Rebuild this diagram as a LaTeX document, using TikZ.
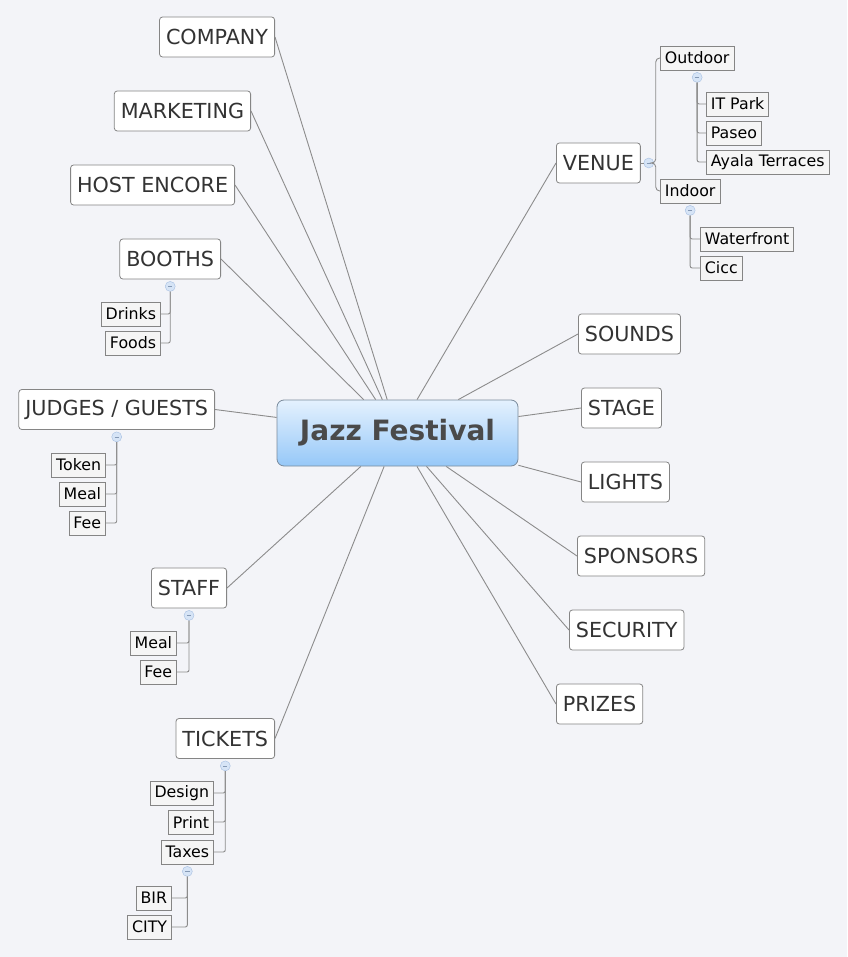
\documentclass[tikz,border=0pt]{standalone}
\usepackage{fontspec}
\setmainfont{DejaVu Sans}
\usepackage{xcolor}
\usetikzlibrary{shapes}
\usetikzlibrary{positioning}
\definecolor{bg}{HTML}{F3F4F8}
\definecolor{linkgray}{HTML}{8C8C8C}
\definecolor{boxline}{HTML}{858585}
\definecolor{subfill}{HTML}{F5F5F5}
\definecolor{txt}{HTML}{333333}
\definecolor{hubtop}{HTML}{E4F1FE}
\definecolor{hubbot}{HTML}{96C8F8}
\definecolor{hubline}{HTML}{7A8B9C}
\definecolor{hubtxt}{HTML}{4A4A4A}
\definecolor{foldfill}{HTML}{D6E4F6}
\definecolor{foldline}{HTML}{A6BFE2}

\begin{document}
\begin{tikzpicture}[x=1pt,y=-1pt,
	topic/.style={draw=boxline,line width=0.8pt,fill=white,rounded corners=3pt,minimum height=40pt,inner xsep=6.5pt,text=txt,font=\fontsize{20.7}{24}\selectfont},
	sub/.style={draw=boxline,line width=0.8pt,fill=subfill,minimum height=24pt,inner xsep=4.5pt,text=black,font=\fontsize{15.8}{18}\selectfont},
	hub/.style={draw=hubline,line width=0.8pt,top color=hubtop,bottom color=hubbot,rounded corners=7pt,minimum width=241pt,minimum height=66pt,text=hubtxt,font=\bfseries\fontsize{28}{32}\selectfont},
	fold/.style={circle,draw=foldline,fill=foldfill,minimum size=10pt,inner sep=0pt,
		path picture={\draw[foldline!80!black,line width=0.7pt] ([xshift=-2.2pt]path picture bounding box.center) -- ([xshift=2.2pt]path picture bounding box.center);}},
	link/.style={draw=linkgray,line width=0.9pt}]
		%Background
			\fill[bg] (0,0) rectangle (847,957);
		%Central topic
			\node[hub] (jazz) at (397.5,433) {Jazz Festival};
		%Main topics, left
			\foreach \id/\txt/\x/\y in {company/COMPANY/275/37, marketing/MARKETING/251/111, hostencore/HOST ENCORE/235/185, booths/BOOTHS/221/259, judges/{JUDGES / GUESTS}/215/409.5, staff/STAFF/227/588, tickets/TICKETS/275/738.5}
			{
				\node[topic,anchor=east] (\id) at (\x,\y) {\txt};
				\draw[link] (\id.east) -- (jazz);
			}
		%Main topics, right
			\foreach \id/\txt/\x/\y in {venue/VENUE/556/163, sounds/SOUNDS/578/334, stage/STAGE/581/408, lights/LIGHTS/581/482, sponsors/SPONSORS/577/556, security/SECURITY/569/630, prizes/PRIZES/556/704}
			{
				\node[topic,anchor=west] (\id) at (\x,\y) {\txt};
				\draw[link] (\id.west) -- (jazz);
			}
		%Venue branch
			\node[fold] (venue-f) at ([xshift=8pt]venue.east) {};
			\draw[link] (venue) -- (venue-f);
			\coordinate (venue-j) at ([xshift=7pt]venue-f.center);
			\node[sub,anchor=west] (outdoor) at (660,58) {Outdoor};
			\node[sub,anchor=west] (indoor) at (660,191) {Indoor};
			\foreach \c in {outdoor,indoor}
				\draw[link,rounded corners=4pt] (venue-f) -- (venue-j) |- (\c.west);
			\node[fold] (outdoor-f) at ([yshift=-7pt]outdoor.south) {};
			\foreach \id/\txt/\y in {itpark/IT Park/104, paseo/Paseo/133, ayala/Ayala Terraces/162}
			{
				\node[sub,anchor=west] (\id) at (706,\y) {\txt};
				\draw[link,rounded corners=2pt] (outdoor-f) |- (\id.west);
			}
			\node[fold] (indoor-f) at ([yshift=-7pt]indoor.south) {};
			\foreach \id/\txt/\y in {waterfront/Waterfront/239, cicc/Cicc/268}
			{
				\node[sub,anchor=west] (\id) at (700,\y) {\txt};
				\draw[link,rounded corners=2pt] (indoor-f) |- (\id.west);
			}
		%Booths branch
			\node[fold] (booths-f) at ([yshift=-7pt]booths.south) {};
			\foreach \id/\txt/\y in {drinks/Drinks/314, foods/Foods/343}
			{
				\node[sub,anchor=east] (\id) at (161,\y) {\txt};
				\draw[link,rounded corners=2pt] (booths-f) |- (\id.east);
			}
		%Judges branch
			\node[fold] (judges-f) at ([yshift=-7pt]judges.south) {};
			\foreach \id/\txt/\y in {token/Token/465, jmeal/Meal/494, jfee/Fee/523}
			{
				\node[sub,anchor=east] (\id) at (106,\y) {\txt};
				\draw[link,rounded corners=2pt] (judges-f) |- (\id.east);
			}
		%Staff branch
			\node[fold] (staff-f) at ([yshift=-7pt]staff.south) {};
			\foreach \id/\txt/\y in {smeal/Meal/643, sfee/Fee/672}
			{
				\node[sub,anchor=east] (\id) at (177,\y) {\txt};
				\draw[link,rounded corners=2pt] (staff-f) |- (\id.east);
			}
		%Tickets branch
			\node[fold] (tickets-f) at ([yshift=-7pt]tickets.south) {};
			\foreach \id/\txt/\y in {design/Design/793, print/Print/822, taxes/Taxes/852}
			{
				\node[sub,anchor=east] (\id) at (214,\y) {\txt};
				\draw[link,rounded corners=2pt] (tickets-f) |- (\id.east);
			}
			\node[fold] (taxes-f) at ([yshift=-7pt]taxes.south) {};
			\foreach \id/\txt/\y in {bir/BIR/898, city/CITY/927}
			{
				\node[sub,anchor=east] (\id) at (172,\y) {\txt};
				\draw[link,rounded corners=2pt] (taxes-f) |- (\id.east);
			}
	\end{tikzpicture}
\end{document}
